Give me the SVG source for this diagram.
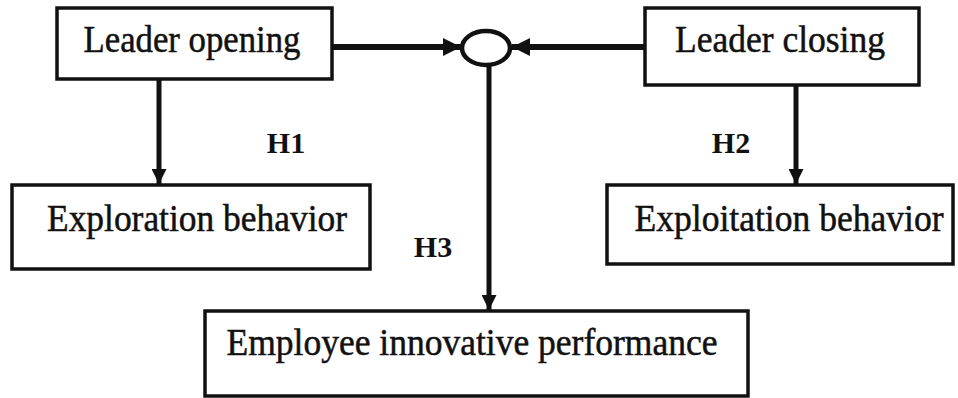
<svg xmlns="http://www.w3.org/2000/svg" width="958" height="398" viewBox="0 0 958 398">
<style>
.box{fill:#fff;stroke:#111;stroke-width:3.5}
.t{font-family:"Liberation Serif","Times New Roman",serif;font-size:37px;fill:#111;text-anchor:middle;stroke:#111;stroke-width:0.5}
.h{font-family:"Liberation Serif","Times New Roman",serif;font-size:30px;font-weight:bold;fill:#111;text-anchor:middle}
.ln{stroke:#111;fill:none}
</style>
<defs>
<marker id="ah" viewBox="0 0 10 10" refX="10" refY="5" markerWidth="3" markerHeight="3" orient="auto" markerUnits="strokeWidth">
<path d="M0,0 L10,5 L0,10 z" fill="#111"/>
</marker>
</defs>
<g id="connectors">
<line class="ln" x1="332" y1="47" x2="461" y2="47" stroke-width="6" marker-end="url(#ah)"/>
<line class="ln" x1="644" y1="47" x2="512" y2="47" stroke-width="6" marker-end="url(#ah)"/>
<line class="ln" x1="159" y1="80" x2="159" y2="184" stroke-width="5" marker-end="url(#ah)"/>
<line class="ln" x1="796" y1="86" x2="796" y2="184" stroke-width="5" marker-end="url(#ah)"/>
<line class="ln" x1="489" y1="66" x2="489" y2="310" stroke-width="5" marker-end="url(#ah)"/>
</g>
<g id="junction">
<ellipse cx="486" cy="48" rx="24" ry="17" fill="#fff" stroke="#111" stroke-width="4.5"/>
</g>
<g id="leader-opening">
<rect class="box" x="57" y="8" width="275" height="71"/>
<text class="t" x="192" y="52" textLength="217" lengthAdjust="spacingAndGlyphs">Leader opening</text>
</g>
<g id="leader-closing">
<rect class="box" x="645" y="8" width="274" height="77"/>
<text class="t" x="780" y="52" textLength="210" lengthAdjust="spacingAndGlyphs">Leader closing</text>
</g>
<g id="exploration">
<rect class="box" x="12" y="185" width="358" height="84"/>
<text class="t" x="197" y="231" textLength="300" lengthAdjust="spacingAndGlyphs">Exploration behavior</text>
</g>
<g id="exploitation">
<rect class="box" x="607" y="185" width="346" height="79"/>
<text class="t" x="789" y="231" textLength="309" lengthAdjust="spacingAndGlyphs">Exploitation behavior</text>
</g>
<g id="performance">
<rect class="box" x="205" y="311" width="543" height="85"/>
<text class="t" x="472" y="355" textLength="491" lengthAdjust="spacingAndGlyphs">Employee innovative performance</text>
</g>
<g id="labels">
<text class="h" x="286" y="153">H1</text>
<text class="h" x="731" y="153">H2</text>
<text class="h" x="433" y="257">H3</text>
</g>
</svg>
